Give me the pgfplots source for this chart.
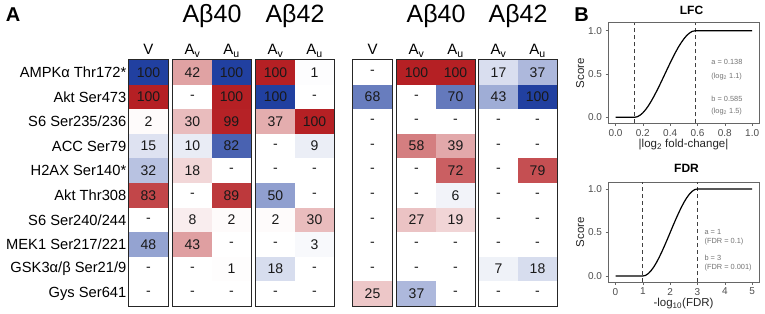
\documentclass[border=0pt]{standalone}
\usepackage{pgfplots}
\pgfplotsset{compat=1.18}
\usepackage{pgfplotstable}
\usepackage{fontspec}
\setmainfont{Liberation Sans}
\pgfdeclareplotmark{cell}{\pgfpathrectangle{\pgfpoint{-19.5pt}{-12.3pt}}{\pgfpoint{39pt}{24.6pt}}\pgfusepathqfill}
\definecolor{tickgray}{RGB}{77,77,77}
\newcommand{\fs}[1]{\fontsize{#1}{#1}\selectfont}

% x = cell centre, y = row, c = signed score (red +, blue -), lab = printed text
\pgfplotstableread{
x y c lab
148.5 0 -100 100
192.5 0 42 42
231.5 0 -100 100
275.5 0 100 100
314.5 0 -1 1
372.5 0 0 -
416.5 0 100 100
455.5 0 100 100
498.5 0 -17 17
537.5 0 -37 37
148.5 1 100 100
192.5 1 0 -
231.5 1 100 100
275.5 1 -100 100
314.5 1 0 -
372.5 1 -68 68
416.5 1 0 -
455.5 1 -70 70
498.5 1 -43 43
537.5 1 -100 100
148.5 2 2 2
192.5 2 30 30
231.5 2 99 99
275.5 2 37 37
314.5 2 100 100
372.5 2 0 -
416.5 2 0 -
455.5 2 0 -
498.5 2 0 -
537.5 2 0 -
148.5 3 -15 15
192.5 3 -10 10
231.5 3 -82 82
275.5 3 0 -
314.5 3 -9 9
372.5 3 0 -
416.5 3 58 58
455.5 3 39 39
498.5 3 0 -
537.5 3 0 -
148.5 4 -32 32
192.5 4 18 18
231.5 4 0 -
275.5 4 0 -
314.5 4 0 -
372.5 4 0 -
416.5 4 0 -
455.5 4 72 72
498.5 4 0 -
537.5 4 79 79
148.5 5 83 83
192.5 5 0 -
231.5 5 89 89
275.5 5 -50 50
314.5 5 0 -
372.5 5 0 -
416.5 5 0 -
455.5 5 -6 6
498.5 5 0 -
537.5 5 0 -
148.5 6 0 -
192.5 6 8 8
231.5 6 2 2
275.5 6 2 2
314.5 6 30 30
372.5 6 0 -
416.5 6 27 27
455.5 6 19 19
498.5 6 0 -
537.5 6 0 -
148.5 7 -48 48
192.5 7 43 43
231.5 7 0 -
275.5 7 0 -
314.5 7 -3 3
372.5 7 0 -
416.5 7 0 -
455.5 7 0 -
498.5 7 0 -
537.5 7 0 -
148.5 8 0 -
192.5 8 0 -
231.5 8 1 1
275.5 8 -18 18
314.5 8 0 -
372.5 8 0 -
416.5 8 0 -
455.5 8 0 -
498.5 8 -7 7
537.5 8 -18 18
148.5 9 0 -
192.5 9 0 -
231.5 9 0 -
275.5 9 0 -
314.5 9 0 -
372.5 9 25 25
416.5 9 -37 37
455.5 9 0 -
498.5 9 0 -
537.5 9 0 -
}\heat

\pgfplotsset{
  panelB/.style={
    anchor=south west, scale only axis, width=151pt,
    axis line style={black!60, line width=0.6pt},
    tick align=outside, major tick length=2.5pt,
    tick style={black!60, line width=0.6pt},
    xtick pos=lower, ytick pos=left,
    ytick={0,0.5,1},
    ticklabel style={font=\fs{10}, text=tickgray, /pgf/number format/assume math mode=true},
    yticklabel style={/pgf/number format/.cd, fixed, fixed zerofill, precision=1, assume math mode=true},
    xlabel style={font=\fs{11.5}, text=black!85, at={(axis description cs:0.5,0)}, anchor=center, yshift=-21.5pt},
    ylabel style={font=\fs{11.5}, text=black!85, at={(axis description cs:-0.185,0.5)}, anchor=center},
    ylabel={Score},
    clip=false,
  },
}
\tikzset{ann/.style={anchor=west, inner sep=0pt, font=\fs{7.4}, text=black!55}}

\begin{document}
\begin{tikzpicture}
\useasboundingbox (0,0) rectangle (765pt,313pt);

% ---------------- Panel A heatmap ----------------
\begin{axis}[
  at={(129pt,7pt)}, anchor=south west, scale only axis,
  width=428pt, height=246pt,
  xmin=129, xmax=557, ymin=-0.5, ymax=9.5, y dir=reverse,
  axis line style={draw=none}, major tick length=0pt,
  xtick={148.5,192.5,231.5,275.5,314.5,372.5,416.5,455.5,498.5,537.5},
  xticklabels={V,A\textsubscript{v},A\textsubscript{u},A\textsubscript{v},A\textsubscript{u},V,A\textsubscript{v},A\textsubscript{u},A\textsubscript{v},A\textsubscript{u}},
  xticklabel pos=upper,
  xticklabel style={font=\fs{15}, anchor=base, yshift=5pt},
  ytick={0,...,9},
  yticklabels={AMPKα Thr172*, Akt Ser473, S6 Ser235/236, ACC Ser79, H2AX Ser140*, Akt Thr308, S6 Ser240/244, MEK1 Ser217/221, GSK3α/β Ser21/9, Gys Ser641},
  yticklabel style={font=\fs{14.7}, inner sep=2.5pt},
  colormap={bwr}{rgb255(0cm)=(33,64,160); rgb255(1cm)=(255,255,255); rgb255(2cm)=(181,32,36)},
  point meta min=-100, point meta max=100,
  clip=false,
]
\addplot[scatter, only marks, mark=cell, point meta=explicit,
  scatter/use mapped color={draw=none, fill=mapped color}]
  table[x=x, y=y, meta=c] {\heat};
\addplot[only marks, mark=none, point meta=explicit symbolic,
  nodes near coords={\pgfplotspointmeta}, nodes near coords align={center},
  every node near coord/.append style={font=\fs{14}, text=black!90}]
  table[x=x, y=y, meta=lab] {\heat};
\draw[line width=1.3pt, black!85] (axis cs:129,-0.5) rectangle (axis cs:168,9.5);
\draw[line width=1.3pt, black!85] (axis cs:173,-0.5) rectangle (axis cs:251,9.5);
\draw[line width=1.3pt, black!85] (axis cs:256,-0.5) rectangle (axis cs:334,9.5);
\draw[line width=1.3pt, black!85] (axis cs:353,-0.5) rectangle (axis cs:392,9.5);
\draw[line width=1.3pt, black!85] (axis cs:397,-0.5) rectangle (axis cs:475,9.5);
\draw[line width=1.3pt, black!85] (axis cs:479,-0.5) rectangle (axis cs:557,9.5);
\end{axis}

\node[font=\fs{25}] at (212pt,297pt) {Aβ40};
\node[font=\fs{25}] at (295pt,297pt) {Aβ42};
\node[font=\fs{25}] at (436pt,297pt) {Aβ40};
\node[font=\fs{25}] at (518pt,297pt) {Aβ42};
\node[font=\fs{20}\bfseries] at (13pt,298pt) {A};
\node[font=\fs{20}\bfseries] at (581.5pt,298.5pt) {B};

% ---------------- Panel B: LFC ----------------
\begin{axis}[panelB,
  at={(608pt,189.7pt)}, height=100.6pt,
  xmin=-0.055, xmax=1.05, ymin=-0.069, ymax=1.092,
  xtick={0,0.2,0.4,0.6,0.8,1},
  xticklabel style={/pgf/number format/.cd, fixed, fixed zerofill, precision=1, assume math mode=true},
  xlabel={|log\textsubscript{2} fold-change|},
]
\addplot[black!75, line width=0.9pt, dash pattern=on 4pt off 3pt] coordinates {(0.138,-0.069) (0.138,1.092)};
\addplot[black!75, line width=0.9pt, dash pattern=on 4pt off 3pt] coordinates {(0.585,-0.069) (0.585,1.092)};
\addplot[black, line width=1.2pt] coordinates {
(0,0) (0.138,0) (0.16,0.007) (0.18,0.025) (0.20,0.052) (0.22,0.088) (0.24,0.132)
(0.26,0.183) (0.28,0.239) (0.30,0.299) (0.32,0.362) (0.34,0.428) (0.36,0.495)
(0.38,0.562) (0.40,0.628) (0.42,0.692) (0.44,0.753) (0.46,0.810) (0.48,0.860)
(0.50,0.905) (0.52,0.943) (0.54,0.971) (0.56,0.991) (0.585,1) (1,1)};
\node[ann] at (axis cs:0.70,0.64) {a = 0.138};
\node[ann] at (axis cs:0.70,0.47) {(log\textsubscript{2} 1.1)};
\node[ann] at (axis cs:0.70,0.21) {b = 0.585};
\node[ann] at (axis cs:0.70,0.07) {(log\textsubscript{2} 1.5)};
\end{axis}
\node[font=\fs{12}\bfseries] at (691.5pt,303pt) {LFC};

% ---------------- Panel B: FDR ----------------
\begin{axis}[panelB,
  at={(608pt,31pt)}, height=100pt,
  xmin=-0.275, xmax=5.25, ymin=-0.069, ymax=1.08,
  xtick={0,1,2,3,4,5},
  xlabel={-log\textsubscript{10}(FDR)},
]
\addplot[black!75, line width=0.9pt, dash pattern=on 4pt off 3pt] coordinates {(1,-0.069) (1,1.08)};
\addplot[black!75, line width=0.9pt, dash pattern=on 4pt off 3pt] coordinates {(3,-0.069) (3,1.08)};
\addplot[black, line width=1.2pt] coordinates {
(0,0) (1,0) (1.1,0.007) (1.2,0.028) (1.3,0.061) (1.4,0.104) (1.5,0.156)
(1.6,0.216) (1.7,0.282) (1.8,0.352) (1.9,0.425) (2.0,0.5) (2.1,0.575)
(2.2,0.648) (2.3,0.718) (2.4,0.784) (2.5,0.844) (2.6,0.896) (2.7,0.939)
(2.8,0.972) (2.9,0.993) (3,1) (5,1)};
\node[ann] at (axis cs:3.25,0.51) {a = 1};
\node[ann] at (axis cs:3.25,0.40) {(FDR = 0.1)};
\node[ann] at (axis cs:3.25,0.21) {b = 3};
\node[ann] at (axis cs:3.25,0.10) {(FDR = 0.001)};
\end{axis}
\node[font=\fs{12}\bfseries] at (686.5pt,145pt) {FDR};

\end{tikzpicture}
\end{document}
